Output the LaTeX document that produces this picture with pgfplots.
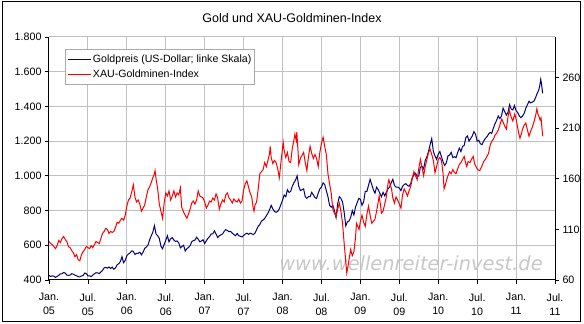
\documentclass[border=0pt]{standalone}
\usepackage{fontspec}
\setmainfont{Liberation Sans}
\newfontfamily\wmfont{DejaVu Sans}
\usepackage{pgfplots}
\pgfplotsset{compat=1.18}
\definecolor{navyline}{RGB}{0,0,128}
\definecolor{redline}{RGB}{255,0,0}
\definecolor{gridgray}{RGB}{192,192,192}
\definecolor{wmgray}{RGB}{200,200,200}
\definecolor{legendgray}{RGB}{170,170,170}
\begin{document}
\begin{tikzpicture}[x=1pt,y=1pt]
\useasboundingbox (0,0) rectangle (584,324);
\fill[white] (0,0) rectangle (584,324);
\draw[black, line width=1pt] (2.5,2.5) rectangle (580.5,322);
\node[font=\fontsize{12.5}{15}\selectfont] at (292,306) {Gold und XAU-Goldminen-Index};
\node[font={\wmfont\itshape\fontsize{19.4}{22}\selectfont}, text=wmgray] at (411,61) {www.wellenreiter-invest.de};
\begin{axis}[
  at={(49pt,44pt)}, anchor=south west, scale only axis, width=506pt, height=243pt,
  xmin=0, xmax=78, ymin=400, ymax=1800,
  axis x line*=bottom, axis y line*=left,
  xtick={0,6,...,78},
  xticklabels={{Jan.\\05},{Jul.\\05},{Jan.\\06},{Jul.\\06},{Jan.\\07},{Jul.\\07},{Jan.\\08},{Jul.\\08},{Jan.\\09},{Jul.\\09},{Jan.\\10},{Jul.\\10},{Jan.\\11},{Jul.\\11}},
  xticklabel style={align=center, font=\fontsize{10.7}{14}\selectfont, yshift=-6pt},
  ytick={400,600,800,1000,1200,1400,1600,1800},
  yticklabels={400,600,800,1.000,1.200,1.400,1.600,1.800},
  yticklabel style={font=\fontsize{10.7}{13}\selectfont},
  /pgf/number format/assume math mode=true,
  tick align=outside, major tick length=4pt, tick style={black, line width=0.8pt},
  xmajorgrids, ymajorgrids, grid style={gridgray, line width=1pt},
  axis line style={black, line width=1pt},
]
\addplot[navyline, line width=1pt] coordinates {
(0,427)(0.25,420)(0.5,424)(0.75,422)(1,415)(1.25,421)(1.5,427)(1.75,435)(2,436)(2.25,443)(2.5,440)(2.75,428)(3,427)(3.25,428)(3.5,436)(3.75,434)(4,428)(4.25,424)(4.5,419)(4.75,418)(5,424)(5.25,425)(5.5,440)(5.75,437)(6,424)(6.25,424)(6.5,420)(6.75,428)(7,436)(7.25,442)(7.5,441)(7.75,437)(8,446)(8.25,455)(8.5,470)(8.75,473)(9,468)(9.25,475)(9.5,466)(9.75,474)(10,462)(10.25,470)(10.5,487)(10.75,494)(11,506)(11.25,534)(11.5,500)(11.75,513)
(12,540)(12.25,550)(12.5,556)(12.75,568)(13,565)(13.25,547)(13.5,554)(13.75,554)(14,560)(14.25,545)(14.5,560)(14.75,582)(15,590)(15.25,600)(15.5,630)(15.75,654)(16,675)(16.25,713)(16.5,665)(16.75,655)(17,640)(17.25,595)(17.5,580)(17.75,605)(18,628)(18.25,655)(18.5,620)(18.75,637)(19,644)(19.25,630)(19.5,622)(19.75,625)(20,614)(20.25,585)(20.5,593)(20.75,600)(21,567)(21.25,580)(21.5,588)(21.75,598)(22,620)(22.25,627)(22.5,630)(22.75,646)(23,635)(23.25,620)(23.5,625)(23.75,632)
(24,610)(24.25,626)(24.5,640)(24.75,650)(25,665)(25.25,666)(25.5,683)(25.75,665)(26,645)(26.25,655)(26.5,660)(26.75,665)(27,680)(27.25,690)(27.5,685)(27.75,678)(28,680)(28.25,670)(28.5,662)(28.75,655)(29,668)(29.25,655)(29.5,652)(29.75,648)(30,656)(30.25,665)(30.5,670)(30.75,663)(31,670)(31.25,666)(31.5,662)(31.75,670)(32,690)(32.25,710)(32.5,720)(32.75,740)(33,745)(33.25,755)(33.5,770)(33.75,785)(34,805)(34.25,830)(34.5,810)(34.75,795)(35,790)(35.25,795)(35.5,810)(35.75,835)
(36,860)(36.25,890)(36.5,880)(36.75,920)(37,905)(37.25,910)(37.5,940)(37.75,960)(38,975)(38.25,1000)(38.5,940)(38.75,915)(39,920)(39.25,925)(39.5,880)(39.75,870)(40,880)(40.25,880)(40.5,905)(40.75,890)(41,875)(41.25,870)(41.5,900)(41.75,925)(42,935)(42.25,960)(42.5,950)(42.75,915)(43,880)(43.25,830)(43.5,820)(43.75,830)(44,800)(44.25,760)(44.5,840)(44.75,880)(45,870)(45.25,850)(45.5,790)(45.75,712)(46,735)(46.25,740)(46.5,760)(46.75,800)(47,775)(47.25,820)(47.5,845)(47.75,870)
(48,865)(48.25,830)(48.5,850)(48.75,910)(49,910)(49.25,945)(49.5,980)(49.75,950)(50,920)(50.25,900)(50.5,935)(50.75,920)(51,900)(51.25,880)(51.5,905)(51.75,885)(52,905)(52.25,925)(52.5,935)(52.75,960)(53,980)(53.25,945)(53.5,935)(53.75,935)(54,930)(54.25,915)(54.5,940)(54.75,950)(55,955)(55.25,945)(55.5,940)(55.75,955)(56,990)(56.25,1005)(56.5,1015)(56.75,995)(57,1000)(57.25,1050)(57.5,1055)(57.75,1040)(58,1090)(58.25,1110)(58.5,1140)(58.75,1180)(59,1215)(59.25,1140)(59.5,1115)(59.75,1095)
(60,1125)(60.25,1140)(60.5,1110)(60.75,1080)(61,1060)(61.25,1075)(61.5,1115)(61.75,1120)(62,1135)(62.25,1105)(62.5,1110)(62.75,1105)(63,1135)(63.25,1160)(63.5,1140)(63.75,1170)(64,1175)(64.25,1220)(64.5,1230)(64.75,1200)(65,1215)(65.25,1230)(65.5,1255)(65.75,1240)(66,1200)(66.25,1205)(66.5,1185)(66.75,1180)(67,1200)(67.25,1215)(67.5,1225)(67.75,1240)(68,1250)(68.25,1245)(68.5,1275)(68.75,1300)(69,1320)(69.25,1345)(69.5,1330)(69.75,1345)(70,1390)(70.25,1370)(70.5,1350)(70.75,1365)(71,1410)(71.25,1385)(71.5,1380)(71.75,1405)
(72,1375)(72.25,1365)(72.5,1345)(72.75,1335)(73,1345)(73.25,1360)(73.5,1390)(73.75,1410)(74,1430)(74.25,1420)(74.5,1425)(74.75,1430)(75,1450)(75.25,1475)(75.5,1495)(75.65,1520)(75.8,1556)(75.9,1535)(76.1,1475)
};
\end{axis}
\begin{axis}[
  at={(49pt,44pt)}, anchor=south west, scale only axis, width=506pt, height=243pt,
  xmin=0, xmax=78, ymin=60, ymax=300,
  hide x axis, axis y line*=right,
  ytick={60,110,160,210,260},
  yticklabels={60,110,160,210,260},
  yticklabel style={font=\fontsize{10.7}{13}\selectfont},
  /pgf/number format/assume math mode=true,
  tick align=outside, major tick length=4pt, tick style={black, line width=0.8pt},
  axis line style={black, line width=1pt},
  legend image code/.code={\draw[#1] (0pt,0pt) -- (23pt,0pt);},
  legend cell align=left,
  legend style={at={(0.0316,0.9506)}, anchor=north west, draw=legendgray, line width=1pt, fill=white,
    font=\fontsize{10.6}{12}\selectfont, inner xsep=2pt, inner ysep=3.5pt, row sep=3.5pt,
    nodes={inner sep=1.5pt}, cells={anchor=west}},
]
\addlegendimage{navyline, line width=1pt}
\addlegendentry{Goldpreis (US-Dollar; linke Skala)}
\addplot[redline, line width=1pt] coordinates {
(0,98)(0.25,96)(0.5,95)(0.75,93)(1.0,91)(1.25,94)(1.5,99)(1.75,97)(2.0,101)(2.25,103)(2.5,100)(2.75,98)(3.0,93)(3.25,92)(3.5,89)(3.75,87)(4.0,83)(4.25,85)(4.5,80)(4.75,79)(5.0,85)(5.25,88)(5.5,90)(5.75,93)(6.0,92)(6.25,91)(6.5,94)(6.75,92)(7.0,95)(7.25,98)(7.5,97)(7.75,96)(8.0,101)(8.25,106)(8.5,108)(8.75,111)(9.0,110)(9.25,106)(9.5,108)(9.75,107)(10.0,108)(10.25,112)(10.5,117)(10.75,116)(11.0,119)(11.25,121)(11.5,119)(11.75,124)
(12.0,133)(12.25,139)(12.5,141)(12.75,147)(13.0,154)(13.1,149)(13.25,142)(13.5,137)(13.75,139)(14.0,135)(14.25,128)(14.5,131)(14.75,134)(15.0,142)(15.25,149)(15.5,152)(15.75,156)(16.0,161)(16.2,164)(16.35,168)(16.5,160)(16.75,150)(17.0,135)(17.25,128)(17.5,121)(17.75,136)(18.0,146)(18.25,143)(18.5,148)(18.75,139)(19.0,143)(19.25,148)(19.5,142)(19.75,146)(20.0,144)(20.25,151)(20.45,132)(20.75,127)(21.0,124)(21.25,121)(21.5,125)(21.75,130)(22.0,136)(22.25,138)(22.5,135)(22.75,139)(23.0,148)(23.25,143)(23.5,142)(23.75,141)
(24.0,137)(24.25,131)(24.5,134)(24.75,138)(25.0,137)(25.25,141)(25.5,139)(25.75,145)(26.0,141)(26.25,130)(26.5,135)(26.75,139)(27.0,137)(27.25,144)(27.5,146)(27.75,141)(28.0,139)(28.25,136)(28.5,140)(28.75,138)(29.0,137)(29.25,140)(29.5,136)(29.75,138)(30.0,149)(30.25,155)(30.5,158)(30.75,152)(31.0,146)(31.25,142)(31.5,130)(31.6,128)(31.75,134)(32.0,137)(32.25,150)(32.5,165)(32.75,167)(33.0,169)(33.25,176)(33.5,172)(33.75,178)(34.0,185)(34.1,192)(34.25,181)(34.5,175)(34.75,178)(35.0,176)(35.25,170)(35.5,161)(35.75,176)
(36.0,190)(36.1,196)(36.25,188)(36.5,181)(36.75,186)(37.0,177)(37.25,176)(37.5,190)(37.75,198)(37.9,204)(38.1,198)(38.2,206)(38.4,186)(38.5,174)(38.75,180)(39.0,183)(39.25,186)(39.5,176)(39.75,168)(40.0,182)(40.25,192)(40.5,185)(40.75,180)(41.0,184)(41.25,180)(41.5,172)(41.75,186)(42.0,195)(42.25,201)(42.5,192)(42.75,184)(43.0,165)(43.25,155)(43.5,146)(43.75,130)(44.0,126)(44.25,123)(44.5,130)(44.75,136)(45.0,128)(45.25,116)(45.5,96)(45.75,78)(45.9,67)(46.1,74)(46.25,80)(46.5,90)(46.75,84)(47.0,88)(47.25,102)(47.4,116)(47.6,113)(47.8,110)
(48.0,118)(48.25,124)(48.5,117)(48.75,113)(49.0,125)(49.25,133)(49.5,124)(49.75,116)(50.0,118)(50.25,120)(50.5,128)(50.75,137)(50.9,143)(51.1,134)(51.25,126)(51.5,128)(51.75,135)(52.0,142)(52.25,155)(52.4,159)(52.6,154)(52.8,150)(53.0,141)(53.25,136)(53.5,142)(53.75,139)(54.0,135)(54.25,131)(54.5,144)(54.75,150)(55.0,147)(55.25,143)(55.5,148)(55.75,152)(56.0,160)(56.25,167)(56.5,163)(56.75,159)(57.0,170)(57.25,179)(57.5,171)(57.75,163)(58.0,172)(58.25,179)(58.5,186)(58.75,189)(59.0,184)(59.25,178)(59.5,166)(59.75,172)
(60.0,179)(60.25,181)(60.5,178)(60.75,165)(60.9,150)(61.1,154)(61.3,159)(61.5,163)(61.75,167)(62.0,165)(62.25,169)(62.5,166)(62.75,165)(63.0,170)(63.25,174)(63.5,176)(63.75,179)(64.0,182)(64.25,175)(64.4,172)(64.6,177)(64.9,176)(65.1,179)(65.4,182)(65.6,175)(65.9,171)(66.1,169)(66.4,168)(66.7,172)(67.0,177)(67.25,179)(67.5,182)(67.75,185)(68.0,193)(68.25,197)(68.5,199)(68.75,203)(69.0,205)(69.25,208)(69.5,213)(69.8,219)(70.0,216)(70.25,212)(70.5,209)(70.75,221)(70.95,228)(71.1,224)(71.3,220)(71.5,217)(71.8,224)
(72.0,219)(72.2,212)(72.4,205)(72.6,200)(72.8,204)(73.0,209)(73.25,213)(73.5,215)(73.75,208)(74.0,202)(74.25,207)(74.5,211)(74.75,216)(75.0,222)(75.2,229)(75.35,224)(75.5,222)(75.7,218)(75.85,220)(76.1,202)
};
\addlegendentry{XAU-Goldminen-Index}
\end{axis}
\end{tikzpicture}
\end{document}
